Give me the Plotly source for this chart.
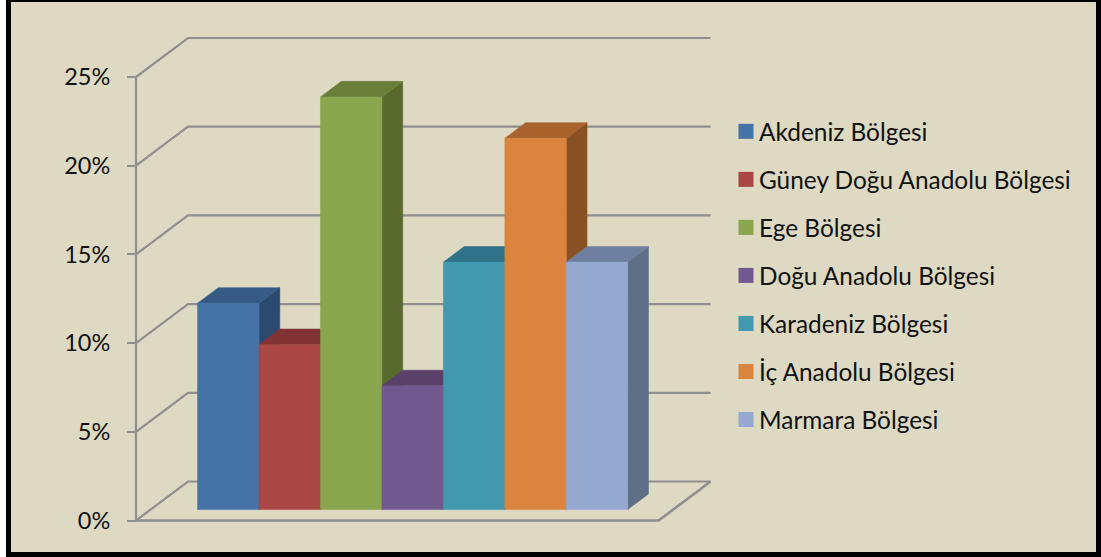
import plotly.graph_objects as go

# --- data ---
categories = ["Akdeniz Bölgesi", "Güney Doğu Anadolu Bölgesi", "Ege Bölgesi",
              "Doğu Anadolu Bölgesi", "Karadeniz Bölgesi", "İç Anadolu Bölgesi",
              "Marmara Bölgesi"]
values = [11.63, 9.30, 23.26, 6.98, 13.95, 20.93, 13.95]
front_colors = ["#4572A7", "#AA4643", "#89A54E", "#71588F", "#4198AF", "#DB843D", "#95A9D1"]
top_colors = ["#355A85", "#813232", "#6A7F3A", "#5A4169", "#30748A", "#A8622C", "#6E7F9F"]
side_colors = ["#2C4A70", "#6E2B2B", "#5A6A2F", "#4A3558", "#285F72", "#8A5224", "#5F6F87"]
y_ticks = [0, 5, 10, 15, 20, 25]
y_tick_labels = ["0%", "5%", "10%", "15%", "20%", "25%"]

W, H = 1101, 557
BAR_PX = 61.45          # pixels per category
PCT_PX = 17.74          # pixels per percent
X0_PX, Y0_PX = 183, 520.5
DEPTH_DX = 52 / BAR_PX  # full depth, in category units
DEPTH_DY = 39 / PCT_PX  # full depth, in percent units
BAR_D0, BAR_D1 = 0.28, 0.68
WALL_L, WALL_R = -0.765, 7.74
GRID = "#8F8F8F"


def prj(x, v, d):
    return x + d * DEPTH_DX, v + d * DEPTH_DY


def poly(points):
    xs, ys = zip(*[prj(*p) for p in points])
    return list(xs) + [xs[0]], list(ys) + [ys[0]]


fig = go.Figure()


def add_line(points, width=2.2):
    xs, ys = zip(*[prj(*p) for p in points])
    fig.add_trace(go.Scatter(x=xs, y=ys, mode="lines", showlegend=False, hoverinfo="skip",
                             line=dict(color=GRID, width=width)))


# walls and floor
for t in y_ticks:
    add_line([(WALL_L, t, 0), (WALL_L, t, 1), (WALL_R, t, 1)])
add_line([(WALL_L, 0, 0), (WALL_L, y_ticks[-1], 0)])
add_line([(WALL_L, 0, 0), (WALL_R, 0, 0), (WALL_R, 0, 1)], 2.6)


def add_face(points, color):
    xs, ys = poly(points)
    fig.add_trace(go.Scatter(x=xs, y=ys, mode="lines", fill="toself", fillcolor=color,
                             line=dict(color=color, width=0.5), showlegend=False,
                             hoverinfo="skip"))


# bars, left to right
for i, (name, v) in enumerate(zip(categories, values)):
    a, b = i, i + 1
    add_face([(b, 0, BAR_D0), (b, 0, BAR_D1), (b, v, BAR_D1), (b, v, BAR_D0)], side_colors[i])
    add_face([(a, v, BAR_D0), (b, v, BAR_D0), (b, v, BAR_D1), (a, v, BAR_D1)], top_colors[i])
    add_face([(a, 0, BAR_D0), (b, 0, BAR_D0), (b, v, BAR_D0), (a, v, BAR_D0)], front_colors[i])

# legend entries
for i, name in enumerate(categories):
    fig.add_trace(go.Scatter(x=[None], y=[None], mode="markers", name=name, legendgroup=name,
                             marker=dict(symbol="square", size=15, color=front_colors[i],
                                         line=dict(width=0))))

FONT = "Lato, Carlito, sans-serif"
fig.update_layout(
    width=W, height=H, margin=dict(l=0, r=0, t=0, b=0),
    paper_bgcolor="white", plot_bgcolor="rgba(0,0,0,0)",
    font=dict(family=FONT, size=24, color="#111111"),
    xaxis=dict(range=[-X0_PX / BAR_PX, (W - X0_PX) / BAR_PX], domain=[0, 1], visible=False,
               fixedrange=True),
    yaxis=dict(range=[(Y0_PX - H) / PCT_PX, Y0_PX / PCT_PX], domain=[0, 1],
               anchor="free", position=136 / W, tickmode="array", tickvals=y_ticks,
               ticktext=y_tick_labels, ticks="outside", ticklen=9, tickwidth=2, tickcolor=GRID,
               showgrid=False, zeroline=False, showline=False, ticklabelstandoff=12,
               tickfont=dict(family=FONT, size=23.5, color="#111111"), fixedrange=True),
    legend=dict(x=719 / W, y=1 - 109 / H, xanchor="left", yanchor="top",
                bgcolor="rgba(0,0,0,0)", tracegroupgap=13.3, itemsizing="trace",
                itemwidth=30, font=dict(family=FONT, size=24.4, color="#111111")),
    shapes=[dict(type="rect", xref="paper", yref="paper", layer="below",
                 x0=8.5 / W, x1=1098.5 / W, y0=1 - 554.5 / H, y1=1 + 0.5 / H,
                 fillcolor="#DDD9C3", line=dict(color="black", width=5))],
)

fig.write_html(
    "out.html",
    config={"displayModeBar": False},
    post_script=(
        "document.body.style.margin='0';document.body.style.overflow='hidden';"
        "document.querySelectorAll('.legend .legendsymbols')"
        ".forEach(function(g){g.setAttribute('transform','translate(7,0)');});"
    ),
)
